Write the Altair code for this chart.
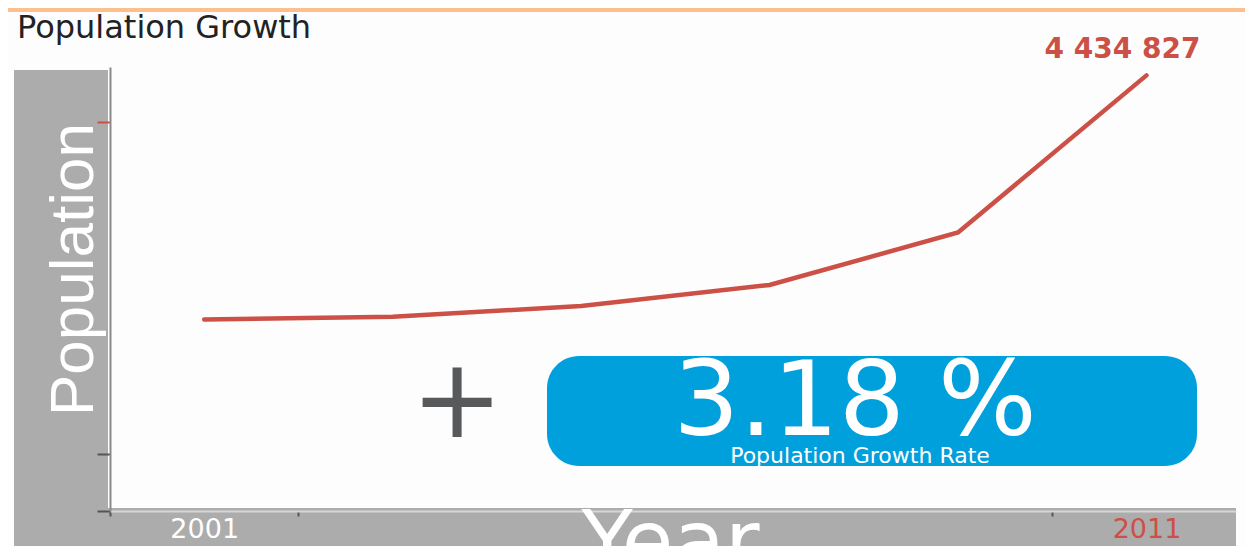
import altair as alt
import pandas as pd

# ---- data ----
years = [2001, 2003, 2005, 2007, 2009, 2011]
population = [1950000, 1977000, 2087000, 2301000, 2835000, 4434827]

x_tick_values = [2000, 2001, 2002, 2010, 2011]
x_label_years = [2001, 2011]
x_highlight_year = 2011
y_tick_values = [0, 580000, 3960000]
y_highlight_tick = 3960000

title_text = "Population Growth"
x_title = "Year"
y_title = "Population"
plus_text = "+"
rate_text = "3.18 %"
rate_caption = "Population Growth Rate"

# ---- styles ----
RED = "#cc5046"
GRAY_BAND = "#acacac"
BLUE = "#00a0dc"
ORANGE = "#fbc08c"
FONT = "DejaVu Sans"

df = pd.DataFrame({"year": years, "population": population})
one = pd.DataFrame({"k": [0]})

W, H = 1126, 444

label_test = " || ".join(f"datum.value == {v}" for v in x_label_years)

x_axis = alt.Axis(
    values=x_tick_values, format="d",
    labelExpr=f"({label_test}) ? datum.label : ''",
    labelColor={"condition": {"test": f"datum.value == {x_highlight_year}", "value": RED}, "value": "white"},
    labelFont=FONT, labelFontSize=27, labelPadding=0, labelBaseline="top",
    labelFlush=False, labelOverlap=False,
    tickOpacity={"condition": {"test": label_test, "value": 0}, "value": 1},
    tickColor="#555555", tickWidth=2, tickSize=5,
    domainColor="#d6d6d6", domainWidth=2, grid=False,
    title=x_title, titleFont=FONT, titleFontSize=84, titleFontWeight="normal",
    titleColor="white", titleX=560, titleY=58, titleAlign="center",
    titleBaseline="alphabetic", zindex=1,
)

y_axis = alt.Axis(
    values=y_tick_values, labels=False,
    tickColor={"condition": {"test": f"datum.value == {y_highlight_tick}", "value": RED}, "value": "#555555"},
    tickWidth=2, tickSize=13,
    domainColor="#8a8a8a", domainWidth=2, grid=False,
    title=y_title, titleFont="Liberation Sans", titleFontSize=62, titleFontWeight="normal",
    titleColor="white", titleAngle=270, titleX=-18, titleY=202, titleAlign="center",
    titleBaseline="alphabetic", zindex=1,
)

x_enc = alt.X("year:Q", scale=alt.Scale(domain=[2000, 2011.95], nice=False, zero=False), axis=x_axis)
y_enc = alt.Y("population:Q", scale=alt.Scale(domain=[0, 4520000], nice=False), axis=y_axis)

orange_bar = alt.Chart(one).mark_rect(color=ORANGE).encode(
    x=alt.value(-102), x2=alt.value(1135), y=alt.value(-59), y2=alt.value(-55))
left_band = alt.Chart(one).mark_rect(color=GRAY_BAND).encode(
    x=alt.value(-96), x2=alt.value(-2), y=alt.value(3), y2=alt.value(479))
bottom_band = alt.Chart(one).mark_rect(color=GRAY_BAND).encode(
    x=alt.value(-2), x2=alt.value(1126), y=alt.value(441), y2=alt.value(479))

line = alt.Chart(df).mark_line(color=RED, strokeWidth=4.5, strokeCap="round").encode(
    x=x_enc, y=y_enc)

end_label = alt.Chart(df).transform_filter(
    f"datum.year == {years[-1]}"
).transform_calculate(
    label="replace(format(datum.population, ','), regexp(',', 'g'), ' ')"
).mark_text(
    font=FONT, fontSize=28, fontWeight="bold", color=RED,
    align="center", baseline="alphabetic", dx=-24, dy=-17
).encode(x="year:Q", y="population:Q", text="label:N")

blue_box = alt.Chart(one).mark_rect(color=BLUE, cornerRadius=32).encode(
    x=alt.value(437), x2=alt.value(1087), y=alt.value(289), y2=alt.value(399))

plus = alt.Chart(one).mark_text(
    text=plus_text, font=FONT, fontSize=110, color="#58595b",
    align="center", baseline="alphabetic"
).encode(x=alt.value(347), y=alt.value(370))

rate = alt.Chart(one).mark_text(
    text=rate_text, font=FONT, fontSize=104, color="white",
    align="center", baseline="alphabetic"
).encode(x=alt.value(745), y=alt.value(368))

caption = alt.Chart(one).mark_text(
    text=rate_caption, font=FONT, fontSize=22, color="white",
    align="center", baseline="alphabetic"
).encode(x=alt.value(750), y=alt.value(396))

title = alt.Chart(one).mark_text(
    text=title_text, font=FONT, fontSize=32, color="#222222",
    align="left", baseline="alphabetic"
).encode(x=alt.value(-93), y=alt.value(-29))

chart = alt.layer(
    orange_bar, left_band, bottom_band, line, end_label,
    blue_box, plus, rate, caption, title
).properties(
    width=W, height=H,
    autosize=alt.AutoSizeParams(type="none"),
    padding={"left": 102, "top": 59, "right": 9, "bottom": 35},
    background="#fdfdfd",
).configure_view(stroke=None)

chart.save("out.html", embed_options={"renderer": "svg", "actions": False})
